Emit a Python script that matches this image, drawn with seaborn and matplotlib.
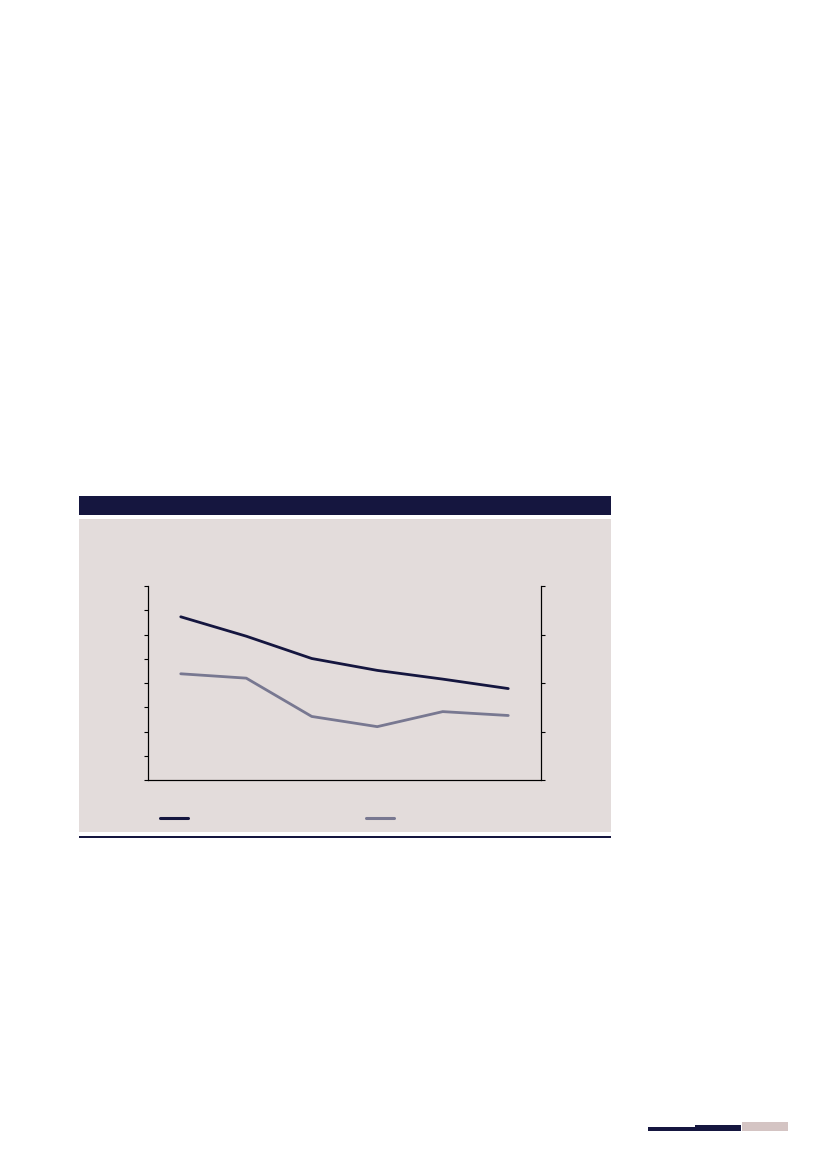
import numpy as np
import pandas as pd
import matplotlib
matplotlib.use("Agg")
import matplotlib.pyplot as plt
from matplotlib.patches import Rectangle
from matplotlib.lines import Line2D
import seaborn as sns

# DATA (no labels are visible in the reference, so the category names are placeholders)

periods = ["P1", "P2", "P3", "P4", "P5", "P6"]
series_left = [67.3, 59.3, 50.1, 45.2, 41.6, 37.7]
series_right = [21.9, 21.0, 13.1, 11.0, 14.1, 13.3]
left_ticks = [0, 10, 20, 30, 40, 50, 60, 70, 80]
right_ticks = [0, 10, 20, 30, 40]

NAVY = "#15163f"
GREY = "#787891"
PANEL = "#e3dcdb"
PINK = "#d4c4c3"

df = pd.DataFrame({"period": periods, "left": series_left, "right": series_right})
df["x"] = np.arange(len(periods))

sns.set_style("white")

W, H = 827, 1169
fig = plt.figure(figsize=(W / 100, H / 100), dpi=100)


def px_rect(x0, y0, x1, y1, color):
    # rectangle in pixel coordinates (top-left origin)
    fig.patches.append(Rectangle((x0 / W, 1 - y1 / H), (x1 - x0) / W, (y1 - y0) / H,
                                 transform=fig.transFigure, color=color, zorder=-5, lw=0))


# PAGE BACKGROUND ELEMENTS
px_rect(79, 496, 611, 515, NAVY)
px_rect(79, 519, 611, 832, PANEL)
px_rect(79, 836, 611, 838, NAVY)
px_rect(648, 1127, 695, 1131, NAVY)
px_rect(695, 1125, 741, 1131, NAVY)
px_rect(742, 1122, 788, 1131, PINK)

# MAIN AXES
ax = fig.add_axes([148 / W, 1 - 780 / H, (541 - 148) / W, (780 - 586) / H])
ax.patch.set_alpha(0)
sns.lineplot(data=df, x="x", y="left", ax=ax, color=NAVY, lw=2.0)
ax.set_xlim(-0.5, len(periods) - 0.5)
ax.set_ylim(left_ticks[0], left_ticks[-1])
ax.set_yticks(left_ticks)
ax.set_xticks([])
ax.set_yticklabels([])
ax.set_xlabel("")
ax.set_ylabel("")

ax2 = ax.twinx()
ax2.patch.set_alpha(0)
sns.lineplot(data=df, x="x", y="right", ax=ax2, color=GREY, lw=2.0)
ax2.set_ylim(right_ticks[0], right_ticks[-1])
ax2.set_yticks(right_ticks)
ax2.set_yticklabels([])
ax2.set_ylabel("")

for a in (ax, ax2):
    a.set_zorder(2)
    a.spines["top"].set_visible(False)
    for s in ("left", "right", "bottom"):
        a.spines[s].set_color("black")
        a.spines[s].set_linewidth(0.8)
    a.tick_params(axis="y", length=3, width=0.8, color="black", direction="out")

ax.tick_params(axis="y", left=True, right=False)
ax2.tick_params(axis="y", right=True, left=False)

# LEGEND KEYS (labels are blank in the reference)
for (x0, x1), c in [((160, 188), NAVY), ((366, 394), GREY)]:
    fig.lines.append(Line2D([x0 / W, x1 / W], [1 - 818 / H] * 2, transform=fig.transFigure,
                            color=c, lw=2.2, solid_capstyle="round"))

fig.savefig("out.png", dpi=100)
